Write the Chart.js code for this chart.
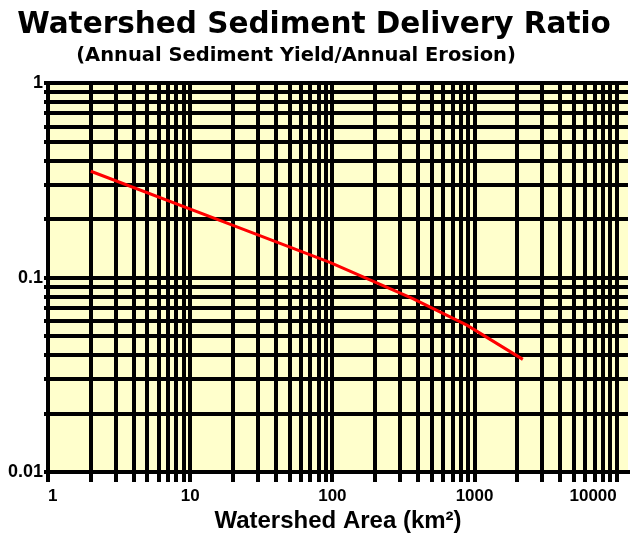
<!DOCTYPE html>
<html>
<head>
<meta charset="utf-8">
<script src="https://cdn.jsdelivr.net/npm/chart.js@4"></script>
<style>
  html, body { margin: 0; padding: 0; background: #fff; }
  #wrap { width: 634px; height: 541px; }
</style>
</head>
<body>
<div id="wrap"><canvas id="sdrChart"></canvas></div>
<script>
// values
const areaKm2 = [2, 20, 96, 368, 883, 2185];
const deliveryRatio = [0.353, 0.186, 0.120, 0.078, 0.057, 0.038];
const xTickLabels = ['1', '10', '100', '1000', '10000'];
const yTickLabels = ['0.01', '0.1', '1'];

const TITLE = 'Watershed Sediment Delivery Ratio';
const SUBTITLE = '(Annual Sediment Yield/Annual Erosion)';
const X_TITLE = 'Watershed Area (km\u00B2)';

// every 1..9 x 10^n line, like printed log paper
function logGridTicks(min, max) {
  const ticks = [];
  for (let exp = Math.floor(Math.log10(min)); Math.pow(10, exp) <= max; exp++) {
    for (let m = 1; m <= 9; m++) {
      const v = +(m * Math.pow(10, exp)).toPrecision(6);
      if (v >= min && v <= max) ticks.push({ value: v });
    }
  }
  return ticks;
}

function labelFor(list) {
  return (value) => {
    const hit = list.find(l => Number(l) === value);
    return hit === undefined ? '' : hit;
  };
}

const paperBackground = {
  id: 'paperBackground',
  beforeDraw(chart) {
    const { ctx, chartArea: a } = chart;
    ctx.save();
    ctx.fillStyle = '#ffffff';
    ctx.fillRect(0, 0, chart.width, chart.height);
    ctx.fillStyle = '#ffffcc';
    ctx.fillRect(a.left, a.top, a.right - a.left, a.bottom - a.top);
    ctx.restore();
  }
};

const subtitleText = {
  id: 'subtitleText',
  afterDraw(chart) {
    const ctx = chart.ctx;
    ctx.save();
    ctx.font = 'bold 19.5px "DejaVu Sans"';
    ctx.fillStyle = '#000';
    ctx.textAlign = 'center';
    ctx.textBaseline = 'middle';
    ctx.fillText(SUBTITLE, 296, 56);
    ctx.restore();
  }
};

const data = {
  datasets: [{
    label: 'Sediment delivery ratio',
    data: areaKm2.map((a, i) => ({ x: a, y: deliveryRatio[i] })),
    borderColor: '#ff0000',
    borderWidth: 3,
    pointRadius: 0,
    tension: 0,
    fill: false
  }]
};

const config = {
  type: 'line',
  data: data,
  options: {
    responsive: true,
    maintainAspectRatio: false,
    animation: false,
    layout: { padding: { left: 0, right: 6, top: 0, bottom: 0 } },
    plugins: {
      legend: { display: false },
      tooltip: { enabled: false },
      title: {
        display: true,
        text: TITLE,
        color: '#000',
        font: { family: 'DejaVu Sans', weight: 'bold', size: 29.5 },
        padding: { top: 8, bottom: 40 }
      }
    },
    scales: {
      x: {
        type: 'logarithmic',
        min: 1,
        max: 12000,
        afterBuildTicks: (scale) => { scale.ticks = logGridTicks(scale.min, scale.max); },
        afterFit: (scale) => { scale.height = 69; },
        grid: { color: '#000', lineWidth: 4, tickLength: 10 },
        border: { color: '#000', width: 4 },
        ticks: {
          autoSkip: false,
          maxRotation: 0,
          minRotation: 0,
          align: 'inner',
          padding: 4,
          color: '#000',
          font: { family: 'Liberation Sans', weight: 'bold', size: 17 },
          callback: labelFor(xTickLabels)
        },
        title: {
          display: true,
          text: X_TITLE,
          color: '#000',
          font: { family: 'Liberation Sans', weight: 'bold', size: 24 },
          padding: { top: 0, bottom: 5 }
        }
      },
      y: {
        type: 'logarithmic',
        min: 0.01,
        max: 1,
        afterBuildTicks: (scale) => { scale.ticks = logGridTicks(scale.min, scale.max); },
        afterFit: (scale) => { scale.width = 48; },
        grid: { color: '#000', lineWidth: 4, tickLength: 4 },
        border: { color: '#000', width: 4 },
        ticks: {
          autoSkip: false,
          padding: 1,
          color: '#000',
          font: { family: 'Liberation Sans', weight: 'bold', size: 18 },
          callback: labelFor(yTickLabels)
        }
      }
    }
  },
  plugins: [paperBackground, subtitleText]
};

const sdrChart = new Chart(document.getElementById('sdrChart'), config);
</script>
</body>
</html>
